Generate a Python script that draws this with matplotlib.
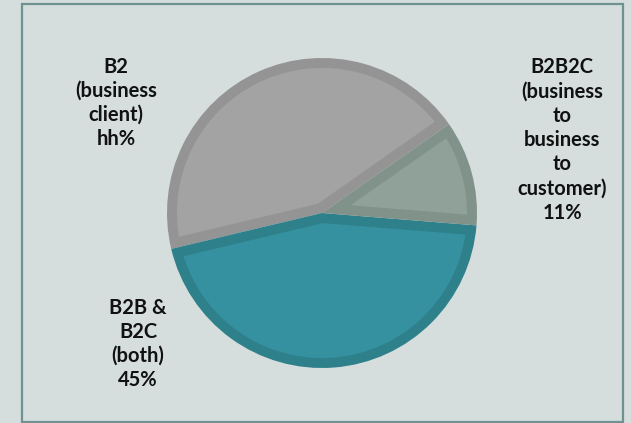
import numpy as np
import matplotlib.pyplot as plt
from matplotlib.patches import Rectangle, Polygon

# customer segments, counter-clockwise from the top-right cut
labels = ["B2\n(business\nclient)\nhh%",
          "B2B &\nB2C\n(both)\n45%",
          "B2B2C\n(business\nto\nbusiness\nto\ncustomer)\n11%"]
shares = [44, 45, 11]

fills = ["#a3a3a3", "#3591a0", "#8fa198"]
edges = ["#949494", "#2e808b", "#80928a"]
# label centres in figure pixels (origin bottom-left)
label_pos = [(116, 320), (138, 79), (562, 283)]

W, H = 631, 423
fig = plt.figure(figsize=(W / 100, H / 100), dpi=100)
fig.patch.set_facecolor("#d5dedd")

# outer frame
fig.patches.append(Rectangle((22 / W, 1 / H), 601 / W, 418 / H, transform=fig.transFigure,
                             fill=False, edgecolor="#6f9190", linewidth=1.6))

cx, cy, r = 322, H - 213, 155
ax = fig.add_axes([(cx - r) / W, (cy - r) / H, 2 * r / W, 2 * r / H])
ax.set_facecolor("none")

# the wedges themselves carry the border colour, a smaller inset polygon the fill
wedges, _ = ax.pie(shares, colors=edges, startangle=35, counterclock=True,
                   wedgeprops=dict(linewidth=0))
ax.set_xlim(-1, 1)
ax.set_ylim(-1, 1)
ax.set_aspect("equal")

border = 10 / r  # border width in data units
for w, fc in zip(wedges, fills):
    t1, t2 = np.radians(w.theta1), np.radians(w.theta2)
    half = (t2 - t1) / 2
    mid = t1 + half
    rin = w.r - border
    apex = border / np.sin(half) * np.array([np.cos(mid), np.sin(mid)])
    delta = np.arcsin(border / rin)
    ts = np.linspace(t1 + delta, t2 - delta, 200)
    arc = np.column_stack([rin * np.cos(ts), rin * np.sin(ts)])
    ax.add_patch(Polygon(np.vstack([apex, arc]), closed=True, facecolor=fc, linewidth=0))

for txt, (x, y) in zip(labels, label_pos):
    fig.text(x / W, y / H, txt, ha="center", va="center", multialignment="center",
             fontsize=14.5, fontweight="bold", family="Lato", linespacing=1.27, color="#111111")

fig.savefig("out.png", dpi=100, facecolor=fig.get_facecolor())
